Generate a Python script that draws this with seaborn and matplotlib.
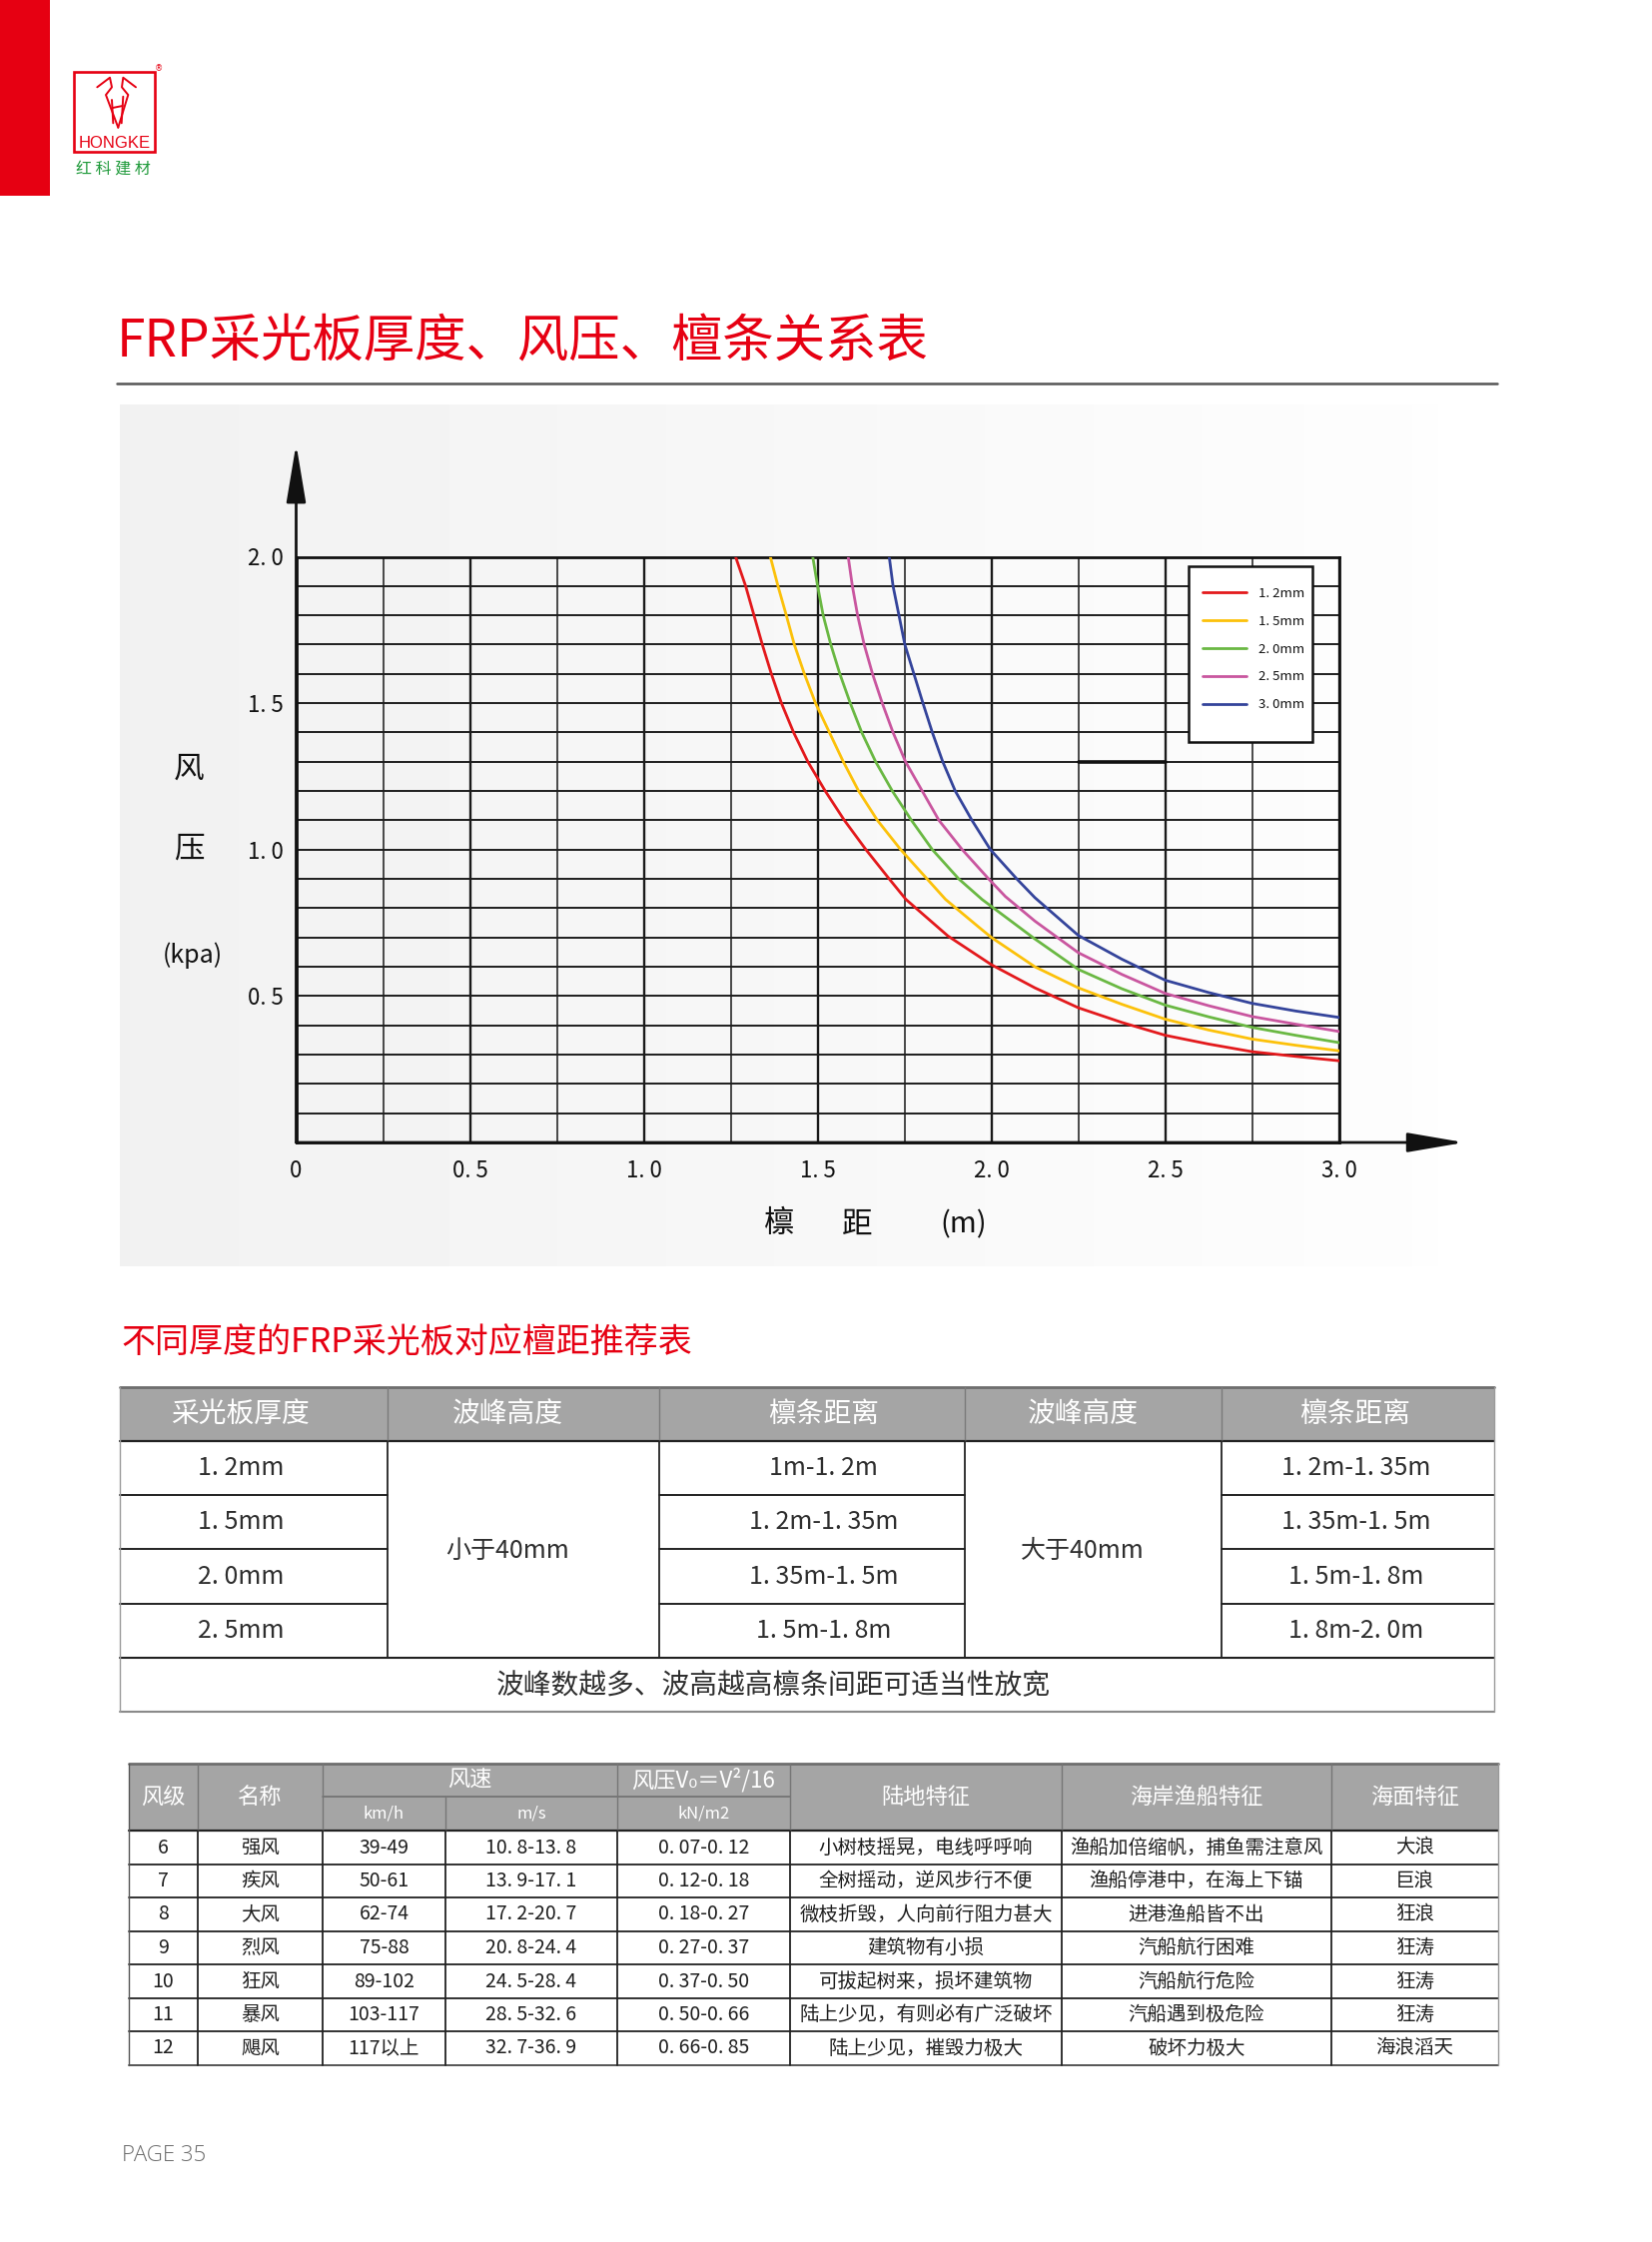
import numpy as np
import pandas as pd
import matplotlib
matplotlib.use("Agg")
import matplotlib.pyplot as plt
import seaborn as sns
from matplotlib.patches import Rectangle
from matplotlib.lines import Line2D

sns.set_theme(style="white")
plt.rcParams["font.family"] = ["Noto Sans CJK SC", "DejaVu Sans"]
plt.rcParams["axes.unicode_minus"] = False

# ---------------- data ----------------
thickness_labels = ["1. 2mm", "1. 5mm", "2. 0mm", "2. 5mm", "3. 0mm"]
line_colors = ["#e3191c", "#fcc10a", "#6ab843", "#c9569f", "#34449b"]

span_12 = [1.264, 1.293, 1.317, 1.341, 1.367, 1.396, 1.431, 1.472, 1.522, 1.577, 1.639, 1.706, 1.754,
           1.875, 2.0, 2.125, 2.25, 2.375, 2.5, 2.625, 2.75, 2.875, 3.0]
pres_12 = [2.0, 1.9, 1.8, 1.7, 1.6, 1.5, 1.4, 1.3, 1.2, 1.1, 1.0, 0.9, 0.83,
           0.705, 0.607, 0.528, 0.46, 0.41, 0.366, 0.336, 0.31, 0.294, 0.279]
span_15 = [1.364, 1.386, 1.410, 1.433, 1.462, 1.494, 1.534, 1.574, 1.618, 1.672, 1.739, 1.868, 1.964,
           2.0, 2.125, 2.25, 2.375, 2.5, 2.625, 2.75, 2.875, 3.0]
pres_15 = [2.0, 1.9, 1.8, 1.7, 1.6, 1.5, 1.4, 1.3, 1.2, 1.1, 1.0, 0.83, 0.735,
           0.70, 0.60, 0.528, 0.472, 0.421, 0.384, 0.353, 0.332, 0.313]
span_20 = [1.486, 1.500, 1.516, 1.538, 1.564, 1.594, 1.627, 1.667, 1.715, 1.770, 1.830, 1.906, 1.973,
           2.0, 2.125, 2.25, 2.375, 2.5, 2.625, 2.75, 2.875, 3.0]
pres_20 = [2.0, 1.9, 1.8, 1.7, 1.6, 1.5, 1.4, 1.3, 1.2, 1.1, 1.0, 0.9, 0.83,
           0.806, 0.695, 0.591, 0.525, 0.469, 0.429, 0.393, 0.366, 0.341]
span_25 = [1.588, 1.600, 1.615, 1.634, 1.658, 1.686, 1.717, 1.753, 1.801, 1.849, 1.916, 1.992, 2.040,
           2.125, 2.25, 2.375, 2.5, 2.625, 2.75, 2.875, 3.0]
pres_25 = [2.0, 1.9, 1.8, 1.7, 1.6, 1.5, 1.4, 1.3, 1.2, 1.1, 1.0, 0.9, 0.84,
           0.756, 0.648, 0.574, 0.509, 0.467, 0.43, 0.404, 0.379]
span_30 = [1.706, 1.717, 1.734, 1.751, 1.777, 1.803, 1.830, 1.860, 1.896, 1.944, 1.997, 2.073, 2.125,
           2.25, 2.375, 2.5, 2.625, 2.75, 2.875, 3.0]
pres_30 = [2.0, 1.9, 1.8, 1.7, 1.6, 1.5, 1.4, 1.3, 1.2, 1.1, 1.0, 0.9, 0.836,
           0.707, 0.626, 0.554, 0.512, 0.475, 0.449, 0.427]

x_ticks = [0, 0.5, 1.0, 1.5, 2.0, 2.5, 3.0]
x_tick_labels = ["0", "0. 5", "1. 0", "1. 5", "2. 0", "2. 5", "3. 0"]
x_minor = [0.25, 0.75, 1.25, 1.75, 2.25, 2.75]
y_ticks = [0.5, 1.0, 1.5, 2.0]
y_tick_labels = ["0. 5", "1. 0", "1. 5", "2. 0"]
y_minor = [0.1, 0.2, 0.3, 0.4, 0.6, 0.7, 0.8, 0.9, 1.1, 1.2, 1.3, 1.4, 1.6, 1.7, 1.8, 1.9]

title_text = "FRP采光板厚度、风压、檀条关系表"
subtitle_text = "不同厚度的FRP采光板对应檀距推荐表"

t1_headers = ["采光板厚度", "波峰高度", "檩条距离", "波峰高度", "檩条距离"]
t1_thickness = ["1. 2mm", "1. 5mm", "2. 0mm", "2. 5mm"]
t1_span_low = ["1m-1. 2m", "1. 2m-1. 35m", "1. 35m-1. 5m", "1. 5m-1. 8m"]
t1_span_high = ["1. 2m-1. 35m", "1. 35m-1. 5m", "1. 5m-1. 8m", "1. 8m-2. 0m"]
t1_wave_low = "小于40mm"
t1_wave_high = "大于40mm"
t1_note = "波峰数越多、波高越高檩条间距可适当性放宽"

t2_levels = ["6", "7", "8", "9", "10", "11", "12"]
t2_names = ["强风", "疾风", "大风", "烈风", "狂风", "暴风", "飓风"]
t2_kmh = ["39-49", "50-61", "62-74", "75-88", "89-102", "103-117", "117以上"]
t2_ms = ["10. 8-13. 8", "13. 9-17. 1", "17. 2-20. 7", "20. 8-24. 4", "24. 5-28. 4", "28. 5-32. 6", "32. 7-36. 9"]
t2_kn = ["0. 07-0. 12", "0. 12-0. 18", "0. 18-0. 27", "0. 27-0. 37", "0. 37-0. 50", "0. 50-0. 66", "0. 66-0. 85"]
t2_land = ["小树枝摇晃，电线呼呼响", "全树摇动，逆风步行不便", "微枝折毁，人向前行阻力甚大", "建筑物有小损",
           "可拔起树来，损坏建筑物", "陆上少见，有则必有广泛破坏", "陆上少见，摧毁力极大"]
t2_coast = ["渔船加倍缩帆，捕鱼需注意风", "渔船停港中，在海上下锚", "进港渔船皆不出", "汽船航行困难",
            "汽船航行危险", "汽船遇到极危险", "破坏力极大"]
t2_sea = ["大浪", "巨浪", "狂浪", "狂涛", "狂涛", "狂涛", "海浪滔天"]

# ---------------- figure ----------------
W, H = 1654, 2245
RED = "#e60012"
fig = plt.figure(figsize=(W / 100, H / 100), dpi=100, facecolor="white")

bg = fig.add_axes([0, 0, 1, 1])
bg.set_zorder(0)
bg.axis("off")

# chart panel gradient
grad = np.linspace(0.945, 0.993, 256)[None, :]
bg.imshow(grad, cmap="gray", vmin=0, vmax=1, extent=(120, 1440, 1268, 405), aspect="auto", zorder=0)
bg.set_xlim(0, W)
bg.set_ylim(H, 0)

# left red bar & logo
bg.add_patch(Rectangle((0, 0), 50, 196, facecolor=RED, edgecolor="none"))
bg.add_patch(Rectangle((74, 72), 81, 80, fill=False, edgecolor=RED, lw=1.9))
logo_left = [(97.3, 87.3), (110, 77.7), (112, 87.3), (106, 95), (118.3, 127.7)]
logo_right = [(136, 87.3), (123.3, 77.7), (122, 87.3), (128.3, 95), (118.3, 127.7)]
for pts in (logo_left, logo_right):
    bg.plot([p[0] for p in pts], [p[1] for p in pts], color=RED, lw=1.4)
bg.plot([112, 113.3], [100, 123.3], color=RED, lw=1.4)
bg.plot([123.3, 121.7], [96.7, 123.3], color=RED, lw=1.4)
bg.plot([112.7, 122.7], [108, 106], color=RED, lw=1.4)
bg.text(114.5, 143, "HONGKE", fontsize=12, color=RED, ha="center", va="center",
        family=["Liberation Sans", "DejaVu Sans"])
bg.text(159, 69, "®", fontsize=6, color=RED, ha="center", va="center", family=["DejaVu Sans"])
bg.text(113.5, 169.5, "红 科 建 材", fontsize=11.5, color="#1f9a3a", ha="center", va="center")

# title
bg.text(117, 343, title_text, fontsize=37, color=RED, ha="left", va="center")
bg.plot([117, 1499], [384, 384], color="#555555", lw=1.8)

# axis titles of chart
bg.text(189, 770, "风", fontsize=22, color="#111111", ha="center", va="center")
bg.text(189, 850, "压", fontsize=22, color="#111111", ha="center", va="center")
bg.text(193, 957, "(kpa)", fontsize=18, color="#111111", ha="center", va="center")
bg.text(780, 1226, "檩", fontsize=22, color="#111111", ha="center", va="center")
bg.text(858, 1226, "距", fontsize=22, color="#111111", ha="center", va="center")
bg.text(965, 1226, "(m)", fontsize=21, color="#111111", ha="center", va="center")

# ---------------- chart ----------------
x0_px, x1_px, y_top_px, y_bot_px = 296.5, 1340.7, 557.5, 1144.0
ax = fig.add_axes([x0_px / W, 1 - y_bot_px / H, (x1_px - x0_px) / W, (y_bot_px - y_top_px) / H])
ax.set_zorder(1)
ax.set_facecolor("none")

rows = []
for lab, xs, ys in zip(thickness_labels, [span_12, span_15, span_20, span_25, span_30],
                       [pres_12, pres_15, pres_20, pres_25, pres_30]):
    for xv, yv in zip(xs, ys):
        rows.append({"thickness": lab, "span": xv, "pressure": yv})
df = pd.DataFrame(rows)
palette = dict(zip(thickness_labels, line_colors))
sns.lineplot(data=df, x="span", y="pressure", hue="thickness", palette=palette, sort=False,
             estimator=None, linewidth=2.0, legend=False, ax=ax, zorder=3)

ax.set_xlim(0, 3.0)
ax.set_ylim(0, 2.0)
ax.set_xticks(x_ticks, labels=x_tick_labels)
ax.set_xticks(x_minor, minor=True)
ax.set_yticks(y_ticks, labels=y_tick_labels)
ax.set_yticks(y_minor, minor=True)
ax.set_axisbelow(True)
ax.grid(which="major", axis="x", color="#1a1a1a", lw=1.7)
ax.grid(which="minor", axis="x", color="#2a2a2a", lw=1.2)
ax.grid(which="both", axis="y", color="#1e1e1e", lw=1.4)
ax.tick_params(which="both", length=0, labelsize=16, labelcolor="#111111")
ax.tick_params(axis="x", pad=12)
ax.tick_params(axis="y", pad=9)
ax.set_xlabel("")
ax.set_ylabel("")
for s in ax.spines.values():
    s.set_color("#111111")
    s.set_linewidth(2.0)

# extra thick segment seen in the grid
ax.plot([2.25, 2.5], [1.3, 1.3], color="#111111", lw=2.6, zorder=2)

# axis arrows
ax.annotate("", xy=(0, 2.385), xytext=(0, 0), xycoords="data", annotation_clip=False,
            arrowprops=dict(arrowstyle="-|>,head_length=3.6,head_width=0.6", color="#111111",
                            lw=2.0, shrinkA=0, shrinkB=0, mutation_scale=10))
ax.annotate("", xy=(3.36, 0), xytext=(0, 0), xycoords="data", annotation_clip=False,
            arrowprops=dict(arrowstyle="-|>,head_length=3.5,head_width=0.6", color="#111111",
                            lw=2.0, shrinkA=0, shrinkB=0, mutation_scale=10))

# legend
ax.add_patch(Rectangle((2.567, 1.369), 0.355, 0.599, facecolor="white", edgecolor="#111111",
                       lw=1.8, zorder=4))
handles = [Line2D([0], [0], color=c, lw=2.0) for c in line_colors]
leg = ax.legend(handles, thickness_labels, loc="center left", bbox_to_anchor=(2.606, 1.684),
                bbox_transform=ax.transData, frameon=False, fontsize=9.5, handlelength=3.4,
                handletextpad=0.9, labelspacing=1.12, borderpad=0, borderaxespad=0)
leg.set_zorder(5)
for t in leg.get_texts():
    t.set_color("#111111")

# ---------------- subtitle & table 1 ----------------
bg.text(121, 1344, subtitle_text, fontsize=24.5, color=RED, ha="left", va="center")

c1 = [120, 388, 660, 966, 1223, 1496]
r1 = [1389, 1443, 1497, 1551, 1606, 1660, 1714]
HEAD = "#a5a5a5"
DARK = "#222222"
bg.add_patch(Rectangle((c1[0], r1[0]), c1[-1] - c1[0], r1[1] - r1[0], facecolor=HEAD, edgecolor="none"))
bg.plot([c1[0], c1[-1]], [r1[0], r1[0]], color="#6e6e6e", lw=2.0)
bg.plot([c1[0], c1[-1]], [r1[1], r1[1]], color=DARK, lw=1.6)
for yy in r1[2:5]:
    for ci in (0, 2, 4):
        bg.plot([c1[ci], c1[ci + 1]], [yy, yy], color=DARK, lw=1.4)
bg.plot([c1[0], c1[-1]], [r1[5], r1[5]], color=DARK, lw=1.5)
bg.plot([c1[0], c1[-1]], [r1[6], r1[6]], color="#8a8a8a", lw=1.5)
for xx in c1[1:-1]:
    bg.plot([xx, xx], [r1[0], r1[1]], color="#7a7a7a", lw=1.0)
    bg.plot([xx, xx], [r1[1], r1[5]], color=DARK, lw=1.3)
for xx in (c1[0], c1[-1]):
    bg.plot([xx, xx], [r1[0], r1[6]], color="#9a9a9a", lw=1.0)

t1_head_x = [240.5, 508, 825, 1084, 1356.6]
for hx, txt in zip(t1_head_x, t1_headers):
    bg.text(hx, (r1[0] + r1[1]) / 2, txt, fontsize=20, color="white", ha="center", va="center")
for i in range(4):
    yc = (r1[i + 1] + r1[i + 2]) / 2
    bg.text(241, yc, t1_thickness[i], fontsize=18, color="#2e2e2e", ha="center", va="center")
    bg.text(824.5, yc, t1_span_low[i], fontsize=18, color="#2e2e2e", ha="center", va="center")
    bg.text(1357.5, yc, t1_span_high[i], fontsize=18, color="#2e2e2e", ha="center", va="center")
bg.text(508, 1553, t1_wave_low, fontsize=18, color="#2e2e2e", ha="center", va="center")
bg.text(1084, 1553, t1_wave_high, fontsize=18, color="#2e2e2e", ha="center", va="center")
bg.text(774.5, 1688, t1_note, fontsize=20, color="#2e2e2e", ha="center", va="center")

# ---------------- table 2 ----------------
c2 = [129, 198, 323, 446, 618, 791, 1063, 1333, 1500]
r2 = [1766, 1799, 1833, 1867, 1900, 1934, 1967, 2001, 2034, 2068]
bg.add_patch(Rectangle((c2[0], r2[0]), c2[-1] - c2[0], r2[2] - r2[0], facecolor=HEAD, edgecolor="none"))
bg.plot([c2[0], c2[-1]], [r2[0], r2[0]], color="#6e6e6e", lw=2.0)
bg.plot([c2[2], c2[5]], [r2[1], r2[1]], color="#707070", lw=1.2)
bg.plot([c2[0], c2[-1]], [r2[2], r2[2]], color=DARK, lw=1.6)
for yy in r2[3:-1]:
    bg.plot([c2[0], c2[-1]], [yy, yy], color=DARK, lw=1.3)
bg.plot([c2[0], c2[-1]], [r2[-1], r2[-1]], color="#555555", lw=1.4)
for xx in (c2[1], c2[2], c2[4], c2[5], c2[6], c2[7]):
    bg.plot([xx, xx], [r2[0], r2[2]], color="#767676", lw=1.0)
bg.plot([c2[3], c2[3]], [r2[1], r2[2]], color="#767676", lw=1.0)
for xx in c2[1:-1]:
    bg.plot([xx, xx], [r2[2], r2[-1]], color=DARK, lw=1.3)
bg.plot([c2[0], c2[0]], [r2[0], r2[-1]], color="#555555", lw=1.0)
bg.plot([c2[-1], c2[-1]], [r2[0], r2[-1]], color="#999999", lw=1.0)

hy_full = (r2[0] + r2[2]) / 2
hy_top = (r2[0] + r2[1]) / 2
hy_sub = (r2[1] + r2[2]) / 2
cx = [(c2[i] + c2[i + 1]) / 2 for i in range(8)]
for ci, txt in ((0, "风级"), (1, "名称"), (5, "陆地特征"), (6, "海岸渔船特征"), (7, "海面特征")):
    bg.text(cx[ci], hy_full, txt, fontsize=16, color="white", ha="center", va="center")
bg.text((c2[2] + c2[4]) / 2, hy_top, "风速", fontsize=16, color="white", ha="center", va="center")
bg.text(cx[4], hy_top, "风压V₀＝V²/16", fontsize=16, color="white", ha="center", va="center")
bg.text(cx[2], hy_sub, "km/h", fontsize=12, color="white", ha="center", va="center")
bg.text(cx[3], hy_sub, "m/s", fontsize=12, color="white", ha="center", va="center")
bg.text(cx[4], hy_sub, "kN/m2", fontsize=12, color="white", ha="center", va="center")

cols2 = [t2_levels, t2_names, t2_kmh, t2_ms, t2_kn, t2_land, t2_coast, t2_sea]
for i in range(7):
    yc = (r2[i + 2] + r2[i + 3]) / 2
    for ci, col in enumerate(cols2):
        bg.text(cx[ci], yc, col[i], fontsize=14, color="#1e1e1e", ha="center", va="center")

# page number
bg.text(122, 2158, "PAGE 35", fontsize=16, color="#6a6a6a", ha="left", va="center",
        family=["Open Sans", "DejaVu Sans"], fontweight="light")

fig.savefig("out.png", dpi=100, facecolor="white")
